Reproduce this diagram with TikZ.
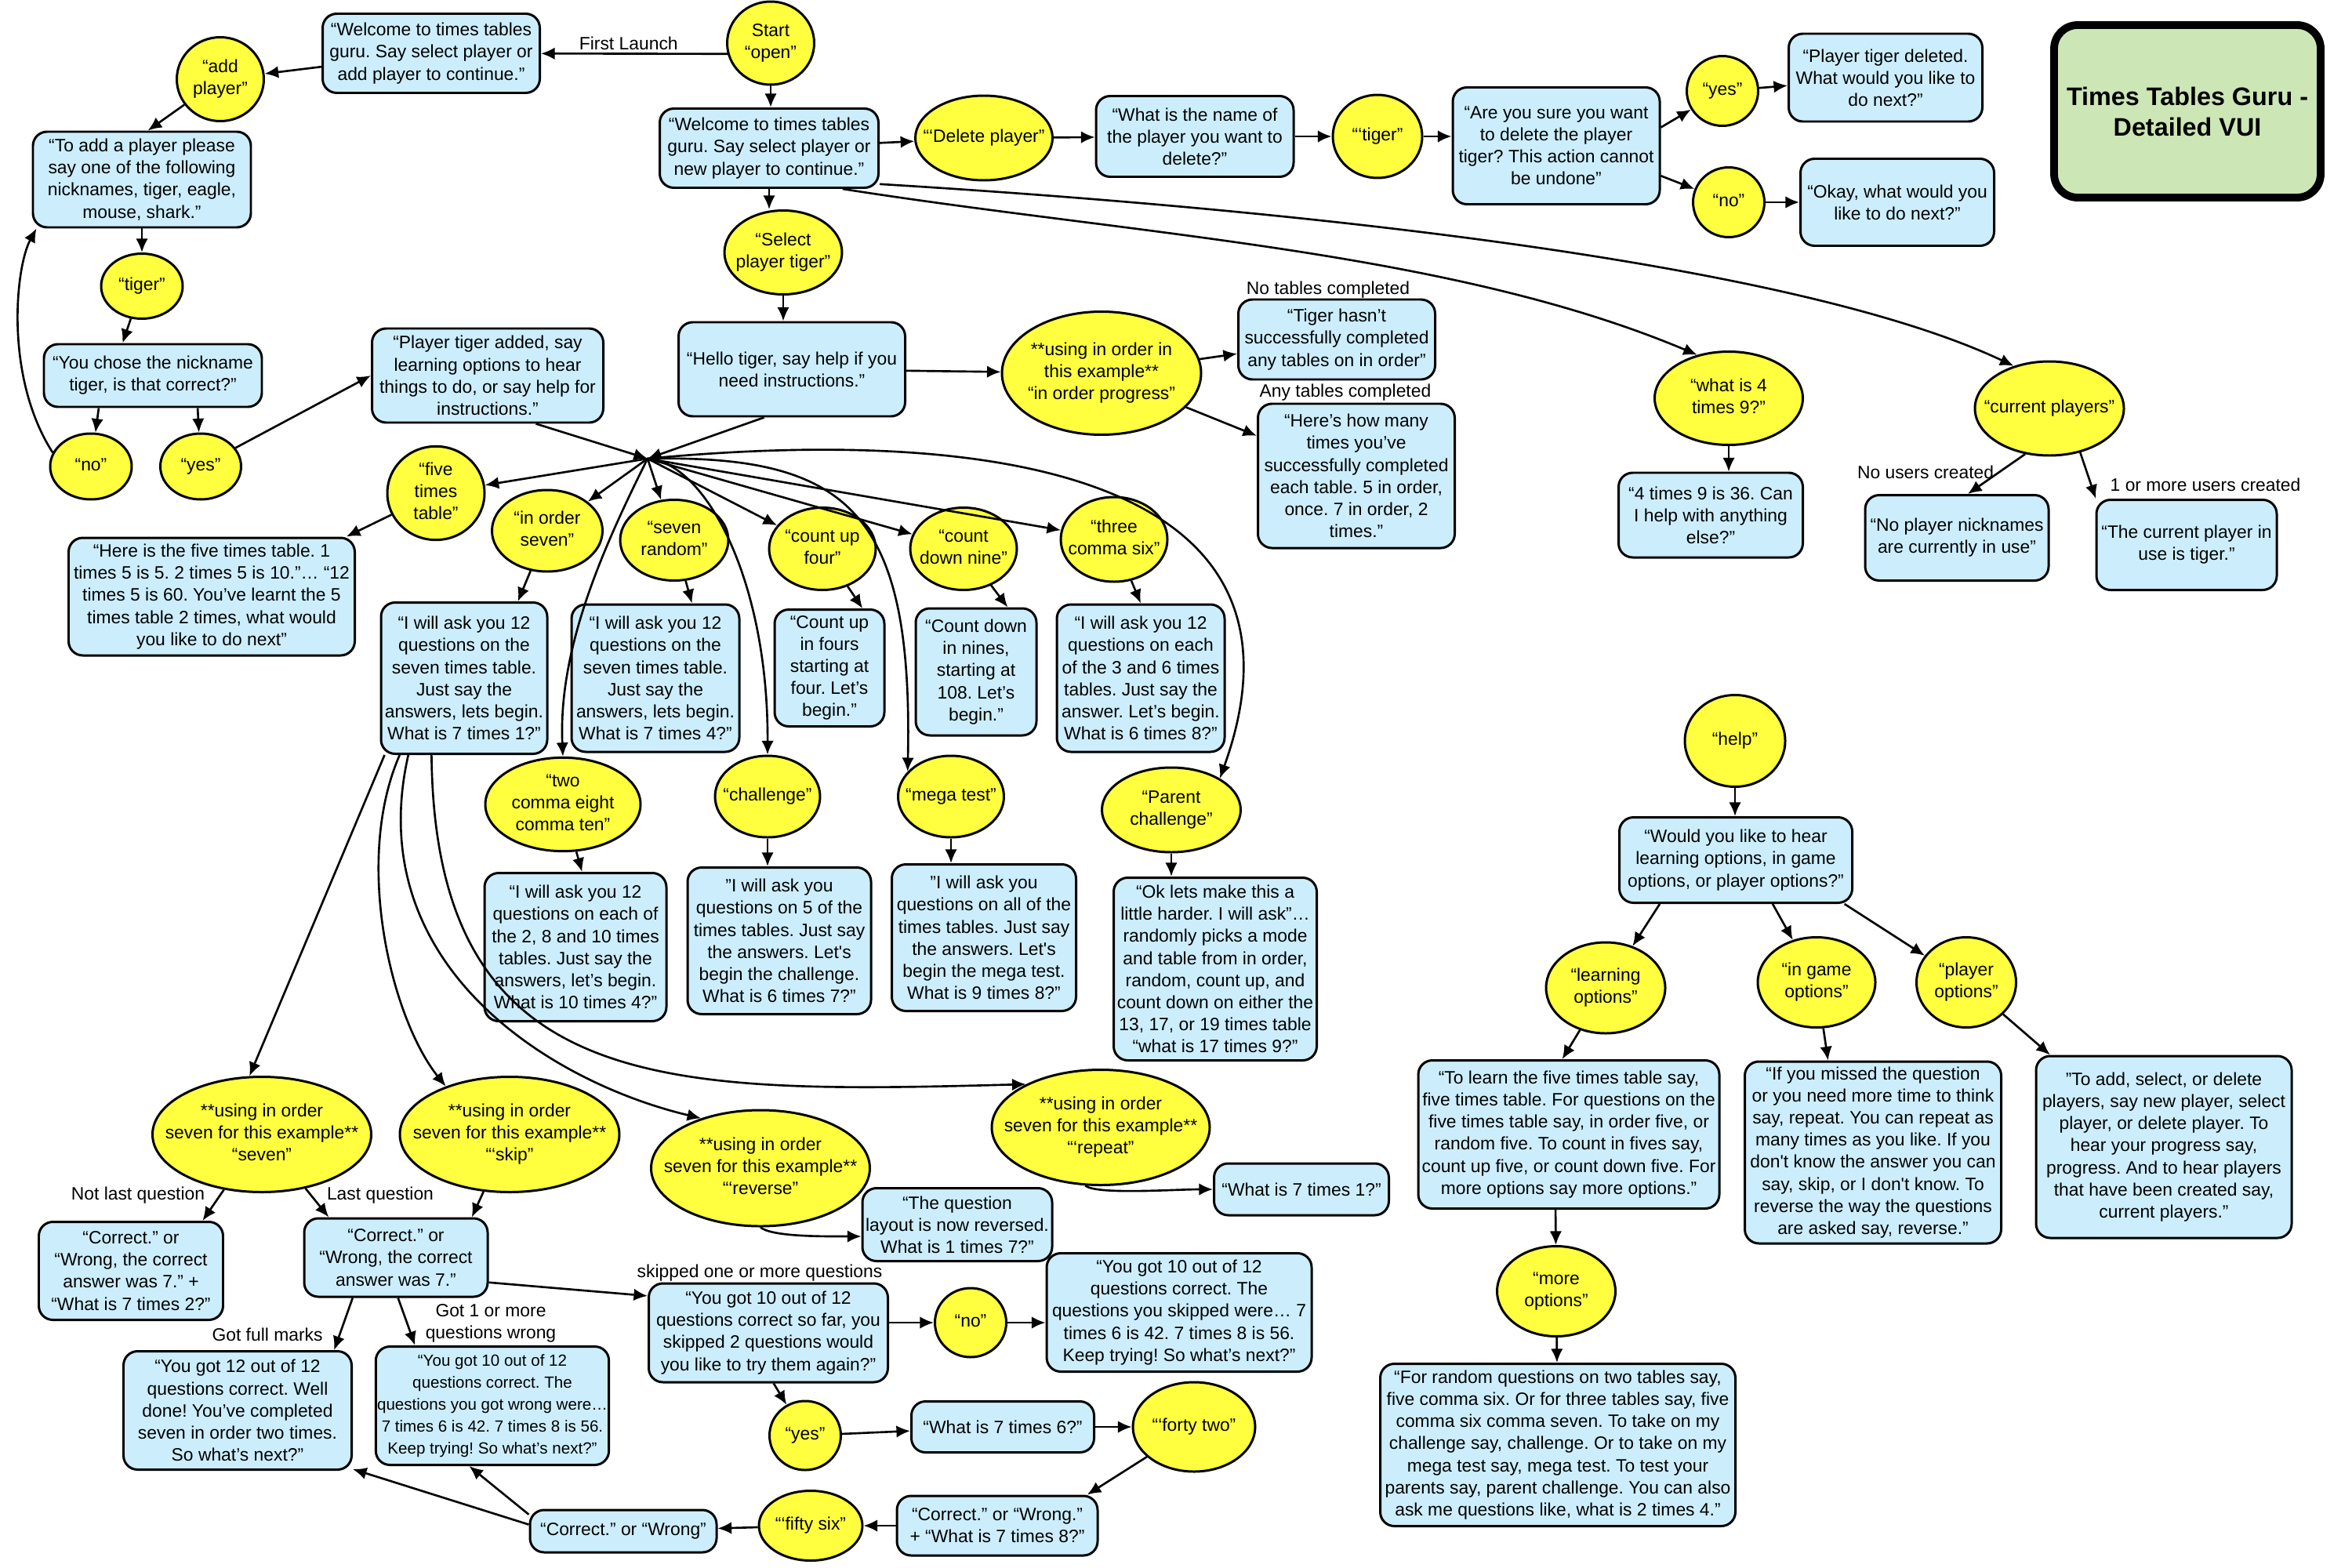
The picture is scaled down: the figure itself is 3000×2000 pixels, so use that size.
\documentclass[tikz,border=0pt]{standalone}
\usepackage{fontspec}
\setmainfont{Liberation Sans}
\usetikzlibrary{shapes.geometric,arrows.meta}

\definecolor{saybg}{HTML}{CCEEFC}
\definecolor{uttbg}{HTML}{FFFF40}
\definecolor{titlebg}{HTML}{CDE6B5}

% text of a spoken command, kept out of the ellipse size
\newcommand{\uttext}[1]{\makebox[0pt]{\begin{tabular}{@{}c@{}}#1\end{tabular}}}

\tikzset{
  sz/.style 2 args={minimum width=#1*0.01cm, minimum height=#2*0.01cm},
  say/.style={draw, line width=0.85pt, fill=saybg, rounded corners=0.18cm, align=center, inner xsep=0.5pt, inner ysep=1pt},
  utter/.style={draw, line width=0.85pt, fill=uttbg, ellipse, inner sep=0pt},
  lbl/.style={inner sep=1pt, align=center},
  flow/.style={->, line width=0.75pt},
}

\begin{document}
\frenchspacing
\begin{tikzpicture}[x=0.01cm, y=0.01cm, font=\fontsize{6.5}{8}\selectfont, >={Latex[length=5pt,width=4.4pt]}]
  \useasboundingbox (0,0) rectangle (3000,-2000);

  % start and players
  \node[utter, sz={111}{106}] (start) at (983,-55) {\uttext{Start\\“open”}};
  \node[say, sz={277}{101}] (welcome1) at (550,-68) {“Welcome to times tables\\guru. Say select player or\\add player to continue.”};
  \node[say, sz={279}{101}] (welcome2) at (981,-189) {“Welcome to times tables\\guru. Say select player or\\new player to continue.”};
  \node[utter, sz={111}{107}] (addplayer) at (281,-101) {\uttext{“add\\player”}};
  \node[say, sz={278}{122}] (toadd) at (181,-229) {“To add a player please\\say one of the following\\nicknames, tiger, eagle,\\mouse, shark.”};
  \node[utter, sz={104}{83}] (tigera) at (181,-365) {\uttext{“tiger”}};
  \node[say, sz={278}{80}] (chose) at (195,-479) {“You chose the nickname\\tiger, is that correct?”};
  \node[utter, sz={104}{84}] (noa) at (116,-595) {\uttext{“no”}};
  \node[utter, sz={103}{84}] (yesa) at (256,-595) {\uttext{“yes”}};
  \node[say, sz={295}{120}] (added) at (622,-479) {“Player tiger added, say\\learning options to hear\\things to do, or say help for\\instructions.”};

  % delete player
  \node[utter, sz={175}{108}] (delete) at (1255,-176) {\uttext{“‘Delete player”}};
  \node[say, sz={252}{103}] (whatname) at (1524,-174) {“What is the name of\\the player you want to\\delete?”};
  \node[utter, sz={114}{106}] (tigerb) at (1757,-174) {\uttext{“‘tiger”}};
  \node[say, sz={264}{149}] (aresure) at (1985,-186) {“Are you sure you want\\to delete the player\\tiger? This action cannot\\be undone”};
  \node[utter, sz={91}{89}] (yesb) at (2197,-116) {\uttext{“yes”}};
  \node[utter, sz={91}{89}] (nob) at (2205,-258) {\uttext{“no”}};
  \node[say, sz={247}{112}] (deleted) at (2405,-99) {“Player tiger deleted.\\What would you like to\\do next?”};
  \node[say, sz={247}{111}] (okay) at (2420,-258) {“Okay, what would you\\like to do next?”};
  \node[draw, line width=2.8pt, fill=titlebg, rounded corners=0.3cm, sz={340}{220}, align=center,
        font=\fontsize{9.2}{11.1}\selectfont\bfseries] (title) at (2790,-142) {Times Tables Guru -\\Detailed VUI};

  % select player
  \node[utter, sz={150}{107}] (select) at (999,-322) {\uttext{“Select\\player tiger”}};
  \node[say, sz={289}{120}] (hello) at (1010,-471) {“Hello tiger, say help if you\\need instructions.”};
  \node[utter, sz={254}{157}] (ordprog) at (1405,-476) {\uttext{**using in order in\\this example**\\“in order progress”}};
  \node[say, sz={251}{102}] (notyet) at (1705,-433) {“Tiger hasn’t\\successfully completed\\any tables on in order”};
  \node[say, sz={251}{184}] (heres) at (1730,-607) {“Here’s how many\\times you’ve\\successfully completed\\each table. 5 in order,\\once. 7 in order, 2\\times.”};
  \node[lbl] (lnotables) at (1694,-370) {No tables completed};
  \node[lbl] (lanytables) at (1716,-501) {Any tables completed};
  \node[utter, sz={189}{119}] (whatisfour) at (2205,-508) {\uttext{“what is 4\\times 9?”}};
  \node[say, sz={235}{108}] (fourtimes) at (2182,-657) {“4 times 9 is 36. Can\\I help with anything\\else?”};
  \node[utter, sz={190}{120}] (curplayers) at (2614,-521) {\uttext{“current players”}};
  \node[say, sz={234}{109}] (nopnick) at (2496,-686) {“No player nicknames\\are currently in use”};
  \node[say, sz={230}{115}] (curin) at (2789,-695) {“The current player in\\use is tiger.”};
  \node[lbl] (lnousers) at (2456,-602) {No users created};
  \node[lbl] (loneusers) at (2813,-618) {1 or more users created};

  % game modes
  \coordinate (hub) at (826,-585);
  \node[utter, sz={124}{105}] (fivetab) at (556,-629) {\uttext{“five\\times\\table”}};
  \node[say, sz={365}{150}] (herefive) at (270,-761) {“Here is the five times table. 1\\times 5 is 5. 2 times 5 is 10.”… “12\\times 5 is 60. You’ve learnt the 5\\times table 2 times, what would\\you like to do next”};
  \node[utter, sz={141}{104}] (ordseven) at (698,-677) {\uttext{“in order\\seven”}};
  \node[say, sz={212}{193}] (ordsevenbox) at (592,-865) {“I will ask you 12\\questions on the\\seven times table.\\Just say the\\answers, lets begin.\\What is 7 times 1?”};
  \node[utter, sz={138}{103}] (sevenrand) at (860,-689) {\uttext{“seven\\random”}};
  \node[say, sz={214}{188}] (sevenrandbox) at (836,-865) {“I will ask you 12\\questions on the\\seven times table.\\Just say the\\answers, lets begin.\\What is 7 times 4?”};
  \node[utter, sz={136}{105}] (countup) at (1049,-700) {\uttext{“count up\\four”}};
  \node[say, sz={140}{149}] (countupbox) at (1058,-852) {“Count up\\in fours\\starting at\\four. Let’s\\begin.”};
  \node[utter, sz={136}{105}] (countdown) at (1229,-700) {\uttext{“count\\down nine”}};
  \node[say, sz={154}{162}] (countdownbox) at (1245,-857) {“Count down\\in nines,\\starting at\\108. Let’s\\begin.”};
  \node[utter, sz={136}{108}] (threesix) at (1421,-688) {\uttext{“three\\comma six”}};
  \node[say, sz={214}{188}] (threesixbox) at (1455,-865) {“I will ask you 12\\questions on each\\of the 3 and 6 times\\tables. Just say the\\answer. Let’s begin.\\What is 6 times 8?”};
  \node[utter, sz={198}{116}] (twoeight) at (718,-1026) {\uttext{“two\\comma eight\\comma ten”}};
  \node[say, sz={232}{189}] (twoeightbox) at (734,-1208) {“I will ask you 12\\questions on each of\\the 2, 8 and 10 times\\tables. Just say the\\answers, let’s begin.\\What is 10 times 4?”};
  \node[utter, sz={134}{104}] (challenge) at (979,-1016) {\uttext{“challenge”}};
  \node[say, sz={234}{187}] (challengebox) at (994,-1200) {"I will ask you\\questions on 5 of the\\times tables. Just say\\the answers. Let\textquotesingle s\\begin the challenge.\\What is 6 times 7?”};
  \node[utter, sz={135}{104}] (megatest) at (1213,-1016) {\uttext{“mega test”}};
  \node[say, sz={235}{187}] (megabox) at (1255,-1196) {"I will ask you\\questions on all of the\\times tables. Just say\\the answers. Let\textquotesingle s\\begin the mega test.\\What is 9 times 8?”};
  \node[utter, sz={177}{108}] (parent) at (1494,-1033) {\uttext{“Parent\\challenge”}};
  \node[say, sz={259}{233}] (parentbox) at (1550,-1236) {“Ok lets make this a\\little harder. I will ask”…\\randomly picks a mode\\and table from in order,\\random, count up, and\\count down on either the\\13, 17, or 19 times table\\“what is 17 times 9?”};

  % in order seven
  \node[utter, sz={279}{147}] (sevenex) at (334,-1447) {\uttext{**using in order\\seven for this example**\\“seven”}};
  \node[utter, sz={280}{147}] (skipex) at (650,-1447) {\uttext{**using in order\\seven for this example**\\“‘skip”}};
  \node[utter, sz={279}{148}] (revex) at (970,-1490) {\uttext{**using in order\\seven for this example**\\“‘reverse”}};
  \node[utter, sz={278}{147}] (rptex) at (1404,-1438) {\uttext{**using in order\\seven for this example**\\“‘repeat”}};
  \node[say, sz={235}{125}] (correcta) at (167,-1621) {“Correct.” or\\“Wrong, the correct\\answer was 7.” +\\“What is 7 times 2?”};
  \node[say, sz={234}{100}] (correctb) at (505,-1604) {“Correct.” or\\“Wrong, the correct\\answer was 7.”};
  \node[lbl] (lnotlast) at (176,-1525) {Not last question};
  \node[lbl] (llast) at (485,-1525) {Last question};
  \node[say, sz={291}{151}] (gottwelve) at (303,-1799) {“You got 12 out of 12\\questions correct. Well\\done! You’ve completed\\seven in order two times.\\So what’s next?”};
  \node[say, sz={295}{151}, font=\fontsize{5.85}{8}\selectfont] (gotten) at (628,-1793) {“You got 10 out of 12\\questions correct. The\\questions you got wrong were…\\7 times 6 is 42. 7 times 8 is 56.\\Keep trying! So what’s next?”};
  \node[lbl] (lfull) at (341,-1702) {Got full marks};
  \node[lbl] (lwrong) at (626,-1688) {Got 1 or more\\questions wrong};
  \node[say, sz={242}{93}] (layout) at (1221,-1562) {“The question\\layout is now reversed.\\What is 1 times 7?”};
  \node[say, sz={223}{66}] (whatisone) at (1660,-1517) {“What is 7 times 1?”};
  \node[say, sz={305}{126}] (sofar) at (980,-1700) {“You got 10 out of 12\\questions correct so far, you\\skipped 2 questions would\\you like to try them again?”};
  \node[lbl] (lskipped) at (969,-1624) {skipped one or more questions};
  \node[utter, sz={91}{88}] (noc) at (1238,-1687) {\uttext{“no”}};
  \node[say, sz={338}{151}] (skippedbox) at (1504,-1674) {“You got 10 out of 12\\questions correct. The\\questions you skipped were… 7\\times 6 is 42. 7 times 8 is 56.\\Keep trying! So what’s next?”};
  \node[utter, sz={91}{88}] (yesc) at (1027,-1831) {\uttext{“yes”}};
  \node[say, sz={233}{65}] (whatissix) at (1279,-1820) {“What is 7 times 6?”};
  \node[utter, sz={156}{114}] (fortytwo) at (1523,-1820) {\uttext{“‘forty two”}};
  \node[say, sz={256}{76}] (checkeight) at (1272,-1946) {“Correct.” or “Wrong.”\\+ “What is 7 times 8?”};
  \node[utter, sz={132}{89}] (fiftysix) at (1034,-1946) {\uttext{“‘fifty six”}};
  \node[say, sz={238}{54}] (checklast) at (795,-1953) {“Correct.” or “Wrong”};

  % help
  \node[utter, sz={128}{117}] (help) at (2213,-945) {\uttext{“help”}};
  \node[say, sz={297}{109}] (wouldyou) at (2214,-1097) {“Would you like to hear\\learning options, in game\\options, or player options?”};
  \node[utter, sz={152}{116}] (learnopt) at (2048,-1260) {\uttext{“learning\\options”}};
  \node[utter, sz={150}{115}] (gameopt) at (2317,-1253) {\uttext{“in game\\options”}};
  \node[utter, sz={127}{115}] (playopt) at (2508,-1253) {\uttext{“player\\options”}};
  \node[say, sz={384}{189}] (tolearn) at (2001,-1447) {“To learn the five times table say,\\five times table. For questions on the\\five times table say, in order five, or\\random five. To count in fives say,\\count up five, or count down five. For\\more options say more options.”};
  \node[utter, sz={151}{115}] (moreopt) at (1985,-1647) {\uttext{“more\\options”}};
  \node[say, sz={453}{207}] (forrandom) at (1987,-1843) {“For random questions on two tables say,\\five comma six. Or for three tables say, five\\comma six comma seven. To take on my\\challenge say, challenge. Or to take on my\\mega test say, mega test. To test your\\parents say, parent challenge. You can also\\ask me questions like, what is 2 times 4.”};
  \node[say, sz={327}{232}] (ifmissed) at (2389,-1470) {“If you missed the question\\or you need more time to think\\say, repeat. You can repeat as\\many times as you like. If you\\don\textquotesingle t know the answer you can\\say, skip, or I don\textquotesingle t know. To\\reverse the way the questions\\are asked say, reverse.”};
  \node[say, sz={326}{232}] (toaddsel) at (2760,-1463) {"To add, select, or delete\\players, say new player, select\\player, or delete player. To\\hear your progress say,\\progress. And to hear players\\that have been created say,\\current players."};

  % connectors
  \draw[flow] (start.194) -- node[lbl, above, pos=0.53] (lfirst) {First Launch} (welcome1);
  \draw[flow] (start) -- (start |- welcome2.north);
  \draw[flow] (welcome1) -- (addplayer);
  \draw[flow] (addplayer) -- (toadd.83);
  \draw[flow] (toadd) -- (tigera);
  \draw[flow] (tigera) -- (chose.133);
  \draw[flow] (chose.-149) -- (noa);
  \draw[flow] (chose.-36.5) -- (yesa);
  \draw[flow] (noa.160) .. controls (5,-480) and (20,-340) .. ([xshift=0.06cm]toadd.south west);
  \draw[flow] (yesa) -- (added.west);
  \draw[flow] (added.-45) -- (hub);
  \draw[flow] (hello.-120) -- (hub);

  \draw[flow] (welcome2) -- (delete);
  \draw[flow] (delete) -- (whatname);
  \draw[flow] (whatname) -- (tigerb);
  \draw[flow] (tigerb.east) -- (aresure.west |- tigerb.east);
  \draw[flow] (aresure.10) -- (yesb);
  \draw[flow] (aresure.-16) -- (nob);
  \draw[flow] (yesb) -- (deleted);
  \draw[flow] (nob) -- (okay);

  \draw[flow] (welcome2.south) -- (welcome2.south |- select.north);
  \draw[flow] (select) -- (select |- hello.north);
  \draw[flow] (hello) -- (ordprog);
  \draw[flow] (ordprog) -- (notyet);
  \draw[flow] (ordprog) -- (heres);
  \draw[flow] (welcome2.-29) .. controls (1450,-300) and (1850,-320) .. (whatisfour.126);
  \draw[flow] (welcome2.-18) .. controls (1700,-270) and (2300,-340) .. (curplayers.130);
  \draw[flow] (whatisfour) -- (whatisfour |- fourtimes.north);
  \draw[flow] (curplayers.-118) -- (nopnick.76);
  \draw[flow] (curplayers.-55) -- (curin.153);

  \draw[flow] (hub) -- (fivetab);
  \draw[flow] (hub) -- (ordseven);
  \draw[flow] (hub) -- (sevenrand);
  \draw[flow] (hub) -- (countup);
  \draw[flow] (hub) -- (countdown);
  \draw[flow] (hub) -- (threesix);
  \draw[flow] (hub) .. controls (766,-705) and (712,-830) .. (twoeight.north);
  \draw[flow] (hub) .. controls (900,-590) and (980,-740) .. (challenge.north);
  \draw[flow] (hub) .. controls (1080,-580) and (1165,-650) .. (megatest.150);
  \draw[flow] (hub) .. controls (1300,-540) and (1690,-620) .. (parent.33);

  \draw[flow] (fivetab) -- (herefive.24);
  \draw[flow] (ordseven) -- (ordsevenbox.55);
  \draw[flow] (sevenrand) -- (sevenrandbox.64);
  \draw[flow] (countup) -- (countupbox.61);
  \draw[flow] (countdown) -- (countdownbox.64);
  \draw[flow] (threesix) -- (threesixbox.north);
  \draw[flow] (twoeight) -- (twoeightbox.85);
  \draw[flow] (challenge) -- (challenge |- challengebox.north);
  \draw[flow] (megatest) -- (megatest |- megabox.north);
  \draw[flow] (parent) -- (parent |- parentbox.north);

  \draw[flow] (ordsevenbox.-136) -- (sevenex.102);
  \draw[flow] (ordsevenbox.-130) .. controls (450,-1100) and (500,-1300) .. (skipex.143);
  \draw[flow] (ordsevenbox.-126.5) .. controls (460,-1230) and (700,-1380) .. (revex.140);
  \draw[flow] (ordsevenbox.-113.6) .. controls (555,-1400) and (850,-1395) .. (rptex.150);

  \draw[flow] (sevenex) -- (correcta.35);
  \draw[flow] (sevenex) -- (correctb.149);
  \draw[flow] (skipex) -- (correctb.28);
  \draw[flow] (correctb.-137) -- (gottwelve.32);
  \draw[flow] (correctb.-87) -- (gotten.142);
  \draw[flow] (correctb.-15) -- (sofar.163);
  \draw[flow] (revex.south) .. controls +(15,-12) and +(-50,0) .. (layout.187);
  \draw[flow] (rptex.-105) .. controls +(15,-12) and +(-50,0) .. (whatisone.west);

  \draw[flow] (noc -| sofar.east) -- (noc);
  \draw[flow] (noc) -- (noc -| skippedbox.west);
  \draw[flow] (sofar.-84) -- (yesc);
  \draw[flow] (yesc) -- (whatissix);
  \draw[flow] (whatissix) -- (fortytwo);
  \draw[flow] (fortytwo) -- (checkeight.19);
  \draw[flow] (checkeight) -- (fiftysix);
  \draw[flow] (fiftysix) -- (checklast);
  \draw[flow] (checklast.176) -- (gottwelve.-27);
  \draw[flow] (checklast.170) -- (gotten.-111);

  \draw[flow] (help) -- (help |- wouldyou.north);
  \draw[flow] (wouldyou.-150) -- (learnopt);
  \draw[flow] (wouldyou.-50) -- (gameopt);
  \draw[flow] (wouldyou.-22) -- (playopt);
  \draw[flow] (learnopt) -- (tolearn.95);
  \draw[flow] (tolearn.-100) -- (moreopt);
  \draw[flow] (moreopt) -- (forrandom);
  \draw[flow] (gameopt) -- (ifmissed.116);
  \draw[flow] (playopt) -- (toaddsel.141);
\end{tikzpicture}
\end{document}
